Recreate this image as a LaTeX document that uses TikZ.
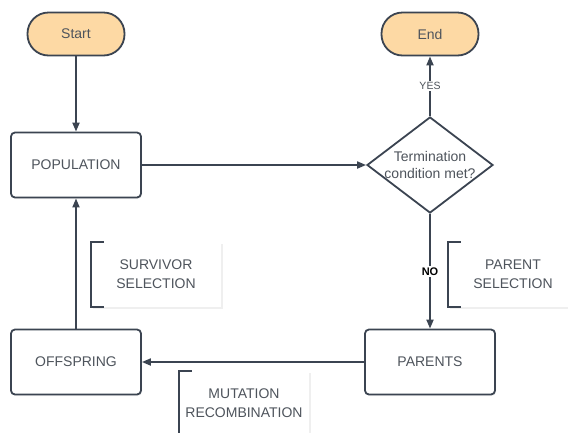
\documentclass[tikz,border=0pt]{standalone}
\usepackage{fontspec}
\setmainfont{Liberation Sans}
\definecolor{slateline}{RGB}{59, 68, 81}
\definecolor{slatetext}{RGB}{78, 84, 92}
\definecolor{termorange}{RGB}{253, 217, 164}
\usetikzlibrary{shapes, shapes.geometric, arrows.meta, positioning, shadows}

\tikzset{
  terminal/.style={draw=slateline, fill=termorange, line width=1.8pt, rounded corners=21pt,
    minimum width=97pt, minimum height=43pt, text=slatetext, font=\fontsize{14}{16.5}\selectfont},
  stage/.style={draw=slateline, fill=white, line width=1.8pt, rounded corners=4pt,
    minimum width=130pt, minimum height=65pt, text=slatetext, font=\fontsize{14}{16.5}\selectfont,
    drop shadow={opacity=0.10, shadow xshift=1pt, shadow yshift=-1.5pt}},
  decision/.style={diamond, draw=slateline, fill=white, line width=1.8pt, shape aspect=1.31,
    inner sep=-6pt, minimum width=126pt, minimum height=96pt, align=center,
    text=slatetext, font=\fontsize{14}{16.5}\selectfont},
  note/.style={fill=white, minimum width=130pt, minimum height=65pt, align=center,
    text=slatetext, font=\fontsize{14}{19}\selectfont,
    drop shadow={opacity=0.12, shadow xshift=1.5pt, shadow yshift=-1.5pt}},
  flow/.style={draw=slateline, line width=1.8pt, -{Triangle[width=7pt,length=9pt]}},
  bracket/.style={draw=slateline, line width=1.8pt},
  answer/.style={fill=white, text=slatetext, inner sep=1.5pt, font=\fontsize{10.5}{12}\selectfont}
}

\begin{document}
\begin{tikzpicture}[x=1pt, y=-1pt]
  \useasboundingbox[fill=white] (0,0) rectangle (568,432);

  % annotations behind the flow
  \node[note] (survivor) at (156,274.5) {SURVIVOR\\SELECTION};
  \node[note] (parentsel) at (513,274.5) {PARENT\\SELECTION};
  \node[note] (variation) at (244,403.5) {MUTATION\\RECOMBINATION};
  \draw[bracket] ([xshift=13pt]survivor.north west) -| (survivor.south west) -- ++(13,0);
  \draw[bracket] ([xshift=13pt]parentsel.north west) -| (parentsel.south west) -- ++(13,0);
  \draw[bracket] ([xshift=13pt]variation.north west) -| (variation.south west) -- ++(13,0);

  % flow
  \node[terminal] (start) at (76,34) {Start};
  \node[terminal] (finish) at (430,34) {End};
  \node[stage] (population) at (76,165) {POPULATION};
  \node[decision] (test) at (430,165) {Termination\\condition met?};
  \node[stage] (parents) at (430,362) {PARENTS};
  \node[stage] (offspring) at (76,362) {OFFSPRING};

  \draw[flow] (start) -- (population);
  \draw[flow] (population) -- (test);
  \draw[flow] (test) -- node[answer] {YES} (finish);
  \draw[flow] (test) -- node[answer, font=\fontsize{11}{12}\selectfont\bfseries, text=black] {NO} (parents);
  \draw[flow] (parents) -- (offspring);
  \draw[flow] (offspring) -- (population);
\end{tikzpicture}
\end{document}
